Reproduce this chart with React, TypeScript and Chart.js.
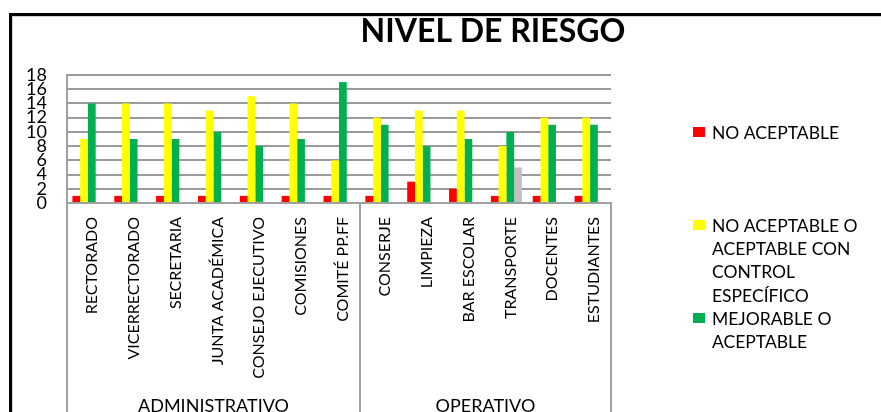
import React, { useEffect, useRef } from "react";
import { Chart, registerables } from "chart.js";

Chart.register(...registerables);

const categories = [
  "RECTORADO",
  "VICERRECTORADO",
  "SECRETARIA",
  "JUNTA ACADÉMICA",
  "CONSEJO EJECUTIVO",
  "COMISIONES",
  "COMITÉ PP.FF",
  "CONSERJE",
  "LIMPIEZA",
  "BAR ESCOLAR",
  "TRANSPORTE",
  "DOCENTES",
  "ESTUDIANTES",
];
const groupLabels = ["ADMINISTRATIVO", "OPERATIVO"];
const groupSizes = [7, 6];

const noAceptable = [1, 1, 1, 1, 1, 1, 1, 1, 3, 2, 1, 1, 1];
const noAceptableControl = [9, 14, 14, 13, 15, 14, 6, 12, 13, 13, 8, 12, 12];
const mejorable = [14, 9, 9, 10, 8, 9, 17, 11, 8, 9, 10, 11, 11];
const otro = [null, null, null, null, null, null, null, null, null, null, 5, null, null];

const seriesNames = ["NO ACEPTABLE", "NO ACEPTABLE O ACEPTABLE CON CONTROL ESPECÍFICO", "MEJORABLE O ACEPTABLE", ""];
const legendLines = [
  ["NO ACEPTABLE"],
  ["NO ACEPTABLE O", "ACEPTABLE CON", "CONTROL", "ESPECÍFICO"],
  ["MEJORABLE O", "ACEPTABLE"],
];
const seriesColors = ["#ff0000", "#ffff00", "#00b050", "#c0c0c0"];

const yMin = 0;
const yMax = 18;
const yStep = 2;

const titleText = "NIVEL DE RIESGO";
const FONT = "Lato, 'Open Sans', sans-serif";

const decorPlugin = {
  id: "decor",
  beforeDraw(chart: any) {
    const ctx = chart.ctx;
    const W = chart.width;
    const H = chart.height;
    ctx.save();
    ctx.fillStyle = "#ffffff";
    ctx.fillRect(0, 0, W, H);
    // frame
    ctx.fillStyle = "#000000";
    ctx.fillRect(9, 13, 3, H - 13);
    ctx.fillRect(9, 13, W - 9, 3);
    ctx.fillStyle = "#cfcfcf";
    ctx.fillRect(12, 16, 1, H - 16);
    ctx.fillRect(12, 16, W - 12, 1);
    ctx.restore();
  },
  afterDraw(chart: any) {
    const ctx = chart.ctx;
    const area = chart.chartArea;
    const H = chart.height;
    ctx.save();
    // title
    ctx.fillStyle = "#000";
    ctx.font = `bold 32px ${FONT}`;
    ctx.textAlign = "center";
    ctx.textBaseline = "alphabetic";
    ctx.fillText(titleText, 493, 42);

    // group separators and labels
    ctx.strokeStyle = "#a0a0a0";
    ctx.lineWidth = 2;
    const step = (area.right - area.left) / categories.length;
    let idx = 0;
    const bounds: number[] = [area.left];
    groupSizes.forEach((n) => {
      idx += n;
      bounds.push(area.left + step * idx);
    });
    bounds.forEach((bx) => {
      ctx.beginPath();
      ctx.moveTo(Math.round(bx), area.bottom);
      ctx.lineTo(Math.round(bx), H);
      ctx.stroke();
    });
    ctx.font = `18px ${FONT}`;
    ctx.fillStyle = "#000";
    ctx.textAlign = "center";
    groupLabels.forEach((g, i) => {
      const cx = (bounds[i] + bounds[i + 1]) / 2;
      ctx.fillText(g, cx, area.bottom + 209);
    });

    // legend
    const lx = area.right + 82;
    const tx = area.right + 101;
    const y0 = area.top + 57;
    const gap = 93;
    const lh = 23.3;
    ctx.font = `17.5px ${FONT}`;
    ctx.textAlign = "left";
    ctx.textBaseline = "middle";
    legendLines.forEach((lines, i) => {
      const y = y0 + gap * i;
      ctx.fillStyle = seriesColors[i];
      ctx.fillRect(lx, y - 5, 12, 10);
      ctx.fillStyle = "#000";
      lines.forEach((ln, j) => {
        ctx.fillText(ln, tx, y + j * lh + 1);
      });
    });
    ctx.restore();
  },
};

export default function App() {
  const ref = useRef<HTMLCanvasElement | null>(null);
  useEffect(() => {
    if (!ref.current) return;
    const datasets = [noAceptable, noAceptableControl, mejorable, otro].map((d, i) => ({
      label: seriesNames[i],
      data: d,
      backgroundColor: seriesColors[i],
      borderWidth: 0,
      barPercentage: 1,
      categoryPercentage: 0.74,
    }));
    const chart = new Chart(ref.current, {
      type: "bar",
      data: { labels: categories, datasets },
      plugins: [decorPlugin],
      options: {
        animation: false,
        responsive: false,
        maintainAspectRatio: false,
        layout: { padding: { left: 14, top: 75, right: 270, bottom: 0 } },
        plugins: {
          legend: { display: false },
          title: { display: false },
          tooltip: { enabled: false },
        },
        scales: {
          x: {
            grid: { display: false, drawTicks: false },
            border: { display: true, color: "#a0a0a0", width: 2 },
            ticks: {
              autoSkip: false,
              maxRotation: 90,
              minRotation: 90,
              padding: 14,
              labelOffset: 4,
              color: "#000",
              font: { family: FONT, size: 16 },
            },
            afterFit(scale: any) {
              scale.height = 209;
            },
          },
          y: {
            min: yMin,
            max: yMax,
            grid: { color: "#9a9a9a", lineWidth: 2, drawTicks: false },
            border: { display: true, color: "#a0a0a0", width: 2 },
            ticks: {
              stepSize: yStep,
              autoSkip: false,
              padding: 20,
              color: "#000",
              font: { family: FONT, size: 18 },
            },
            afterFit(scale: any) {
              scale.width = 53;
            },
          },
        },
      },
    });
    return () => chart.destroy();
  }, []);
  return (
    <div style={{ position: "fixed", left: 0, top: 0, width: 881, height: 412 }}>
      <canvas ref={ref} width={881} height={412} style={{ display: "block", width: 881, height: 412 }} />
    </div>
  );
}
